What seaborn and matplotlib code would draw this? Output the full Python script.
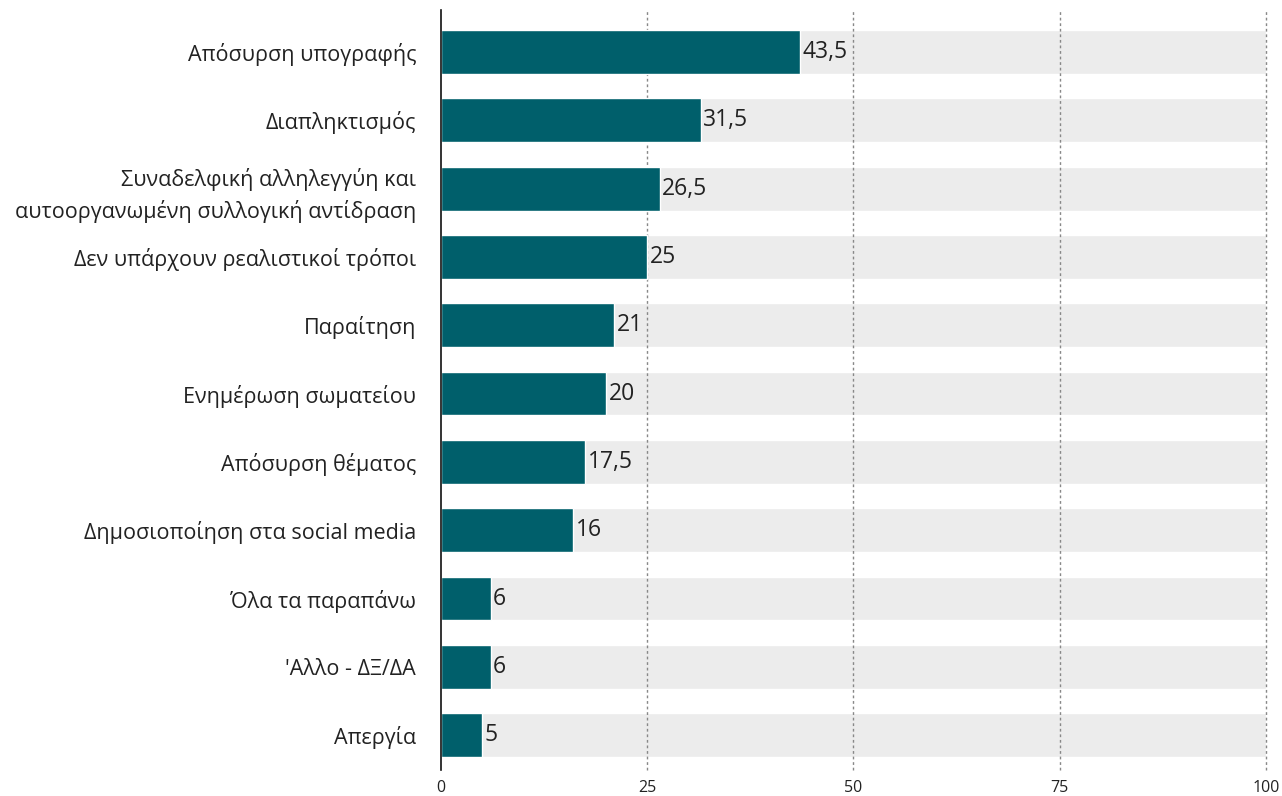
import numpy as np
import pandas as pd
import matplotlib.pyplot as plt
import seaborn as sns

categories = [
    "Απόσυρση υπογραφής",
    "Διαπληκτισμός",
    "Συναδελφική αλληλεγγύη και\nαυτοοργανωμένη συλλογική αντίδραση",
    "Δεν υπάρχουν ρεαλιστικοί τρόποι",
    "Παραίτηση",
    "Ενημέρωση σωματείου",
    "Απόσυρση θέματος",
    "Δημοσιοποίηση στα social media",
    "Όλα τα παραπάνω",
    "'Αλλο - ΔΞ/ΔΑ",
    "Απεργία",
]
values = [43.5, 31.5, 26.5, 25, 21, 20, 17.5, 16, 6, 6, 5]
value_labels = ["43,5", "31,5", "26,5", "25", "21", "20", "17,5", "16", "6", "6", "5"]
max_value = 100
x_ticks = [0, 25, 50, 75, 100]

df = pd.DataFrame({"category": categories, "value": values, "full": [max_value] * len(values)})

sns.set_style("white")
plt.rcParams['font.family'] = ['Open Sans', 'DejaVu Sans']

fig = plt.figure(figsize=(12.82, 7.96), dpi=100)
ax = fig.add_axes([0.344, 0.0327, 0.6435, 0.9547])

# grey background track to 100, then the value bars on top
sns.barplot(data=df, x="full", y="category", color="#ececec", width=0.64,
            saturation=1, ax=ax, zorder=1)
sns.barplot(data=df, x="value", y="category", color="#005f6b", width=0.64,
            saturation=1, ax=ax, zorder=3)

for i, (v, lab) in enumerate(zip(values, value_labels)):
    ax.text(v + 0.3, i, lab, va="center", ha="left", fontsize=16.5, color="#222222", zorder=4)

for t in x_ticks[1:]:
    ax.axvline(t, color="#888888", linestyle=(0, (2, 2)), linewidth=1, zorder=2, clip_on=False)

ax.set_xlim(0, 100)
ax.set_ylim(10.51, -0.615)
ax.set_xticks(x_ticks)
ax.set_xticklabels([str(t) for t in x_ticks], fontsize=11.5, color="#222222")
ax.tick_params(axis="x", length=0, pad=7)
ax.tick_params(axis="y", length=0, pad=18, labelsize=15.5, labelcolor="#222222")
for lab in ax.get_yticklabels():
    lab.set_multialignment("right")
    lab.set_linespacing(1.5)
ax.set_xlabel("")
ax.set_ylabel("")
for s in ["top", "right", "bottom"]:
    ax.spines[s].set_visible(False)
ax.spines["left"].set_color("#111111")
ax.spines["left"].set_linewidth(1.2)
ax.spines["left"].set_zorder(5)

fig.savefig("out.png", dpi=100)
